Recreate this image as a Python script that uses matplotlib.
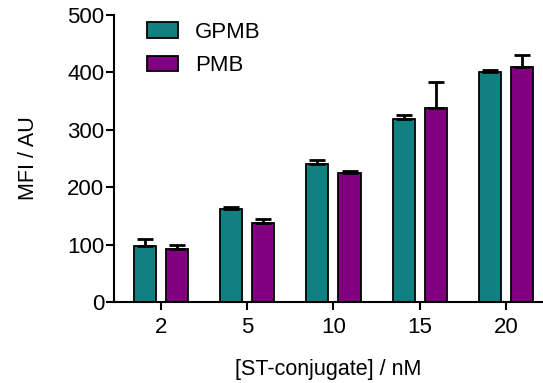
import numpy as np
import matplotlib.pyplot as plt

plt.rcParams['font.family'] = ['Liberation Sans', 'DejaVu Sans']

concentrations = ['2', '5', '10', '15', '20']
gpmb_mean = [98, 162, 240, 318, 400]
gpmb_err = [12, 3, 8, 8, 4]
pmb_mean = [92, 138, 224, 338, 409]
pmb_err = [8, 6, 5, 46, 22]

teal = '#118080'
purple = '#800080'

fig = plt.figure(figsize=(5.43, 3.83), dpi=100)
ax = fig.add_axes([0.21, 0.2115, 0.79, 0.7495])

x = np.arange(len(concentrations))
width = 0.256
off = 0.186

ax.bar(x - off, gpmb_mean, width, color=teal, edgecolor='black', linewidth=1.3, label='GPMB', zorder=2)
ax.bar(x + off, pmb_mean, width, color=purple, edgecolor='black', linewidth=1.3, label='PMB', zorder=2)
ax.errorbar(x - off, gpmb_mean, yerr=[np.zeros(5), gpmb_err], fmt='none', ecolor='black',
            elinewidth=2, capsize=6, capthick=2, zorder=3)
ax.errorbar(x + off, pmb_mean, yerr=[np.zeros(5), pmb_err], fmt='none', ecolor='black',
            elinewidth=2, capsize=6, capthick=2, zorder=3)

ax.set_xlim(-0.545, 4.43)
ax.set_ylim(0, 500)
ax.set_yticks([0, 100, 200, 300, 400, 500])
ax.set_xticks(x)
ax.set_xticklabels(concentrations)

for s in ['top', 'right']:
    ax.spines[s].set_visible(False)
for s in ['left', 'bottom']:
    ax.spines[s].set_linewidth(1.5)
ax.tick_params(axis='both', labelsize=16, width=1.5, length=6, direction='out')
ax.tick_params(axis='y', pad=1)
ax.tick_params(axis='x', pad=5)

ax.set_ylabel('MFI / AU', fontsize=15.5, labelpad=20)
ax.set_xlabel('[ST-conjugate] / nM', fontsize=15.5, labelpad=15)

ax.legend(loc='upper left', bbox_to_anchor=(0.03, 1.045), frameon=False, fontsize=16,
          handlelength=1.4, handleheight=0.72, handletextpad=0.75, labelspacing=0.55)

fig.savefig('out.png', dpi=100)
